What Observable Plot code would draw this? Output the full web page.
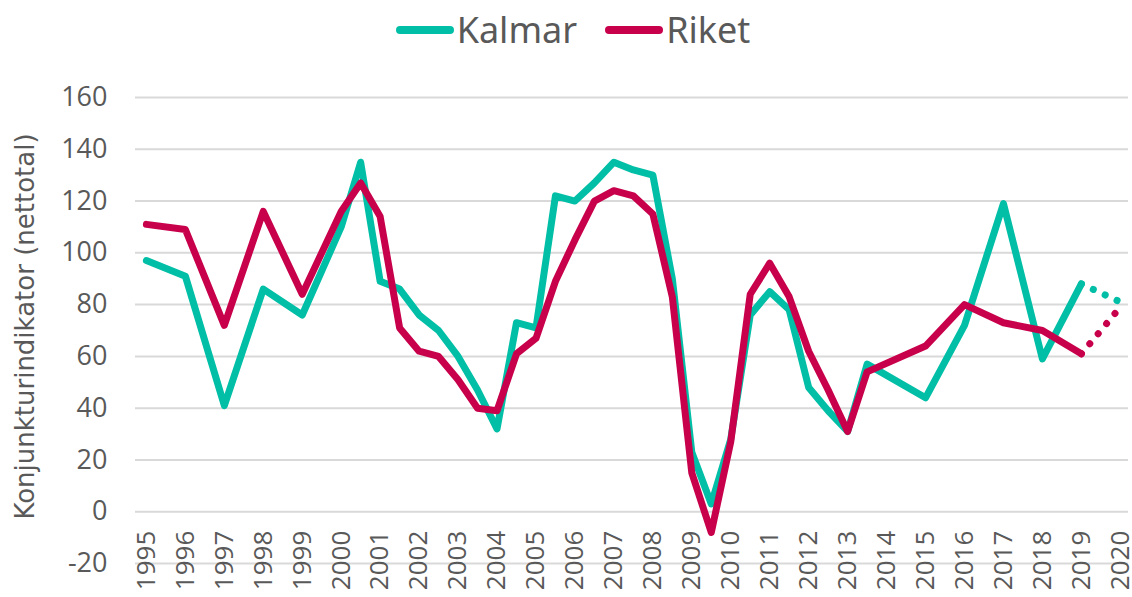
<!DOCTYPE html>
<html>
<head>
<meta charset="utf-8">
<script src="https://cdn.jsdelivr.net/npm/d3@7"></script>
<script src="https://cdn.jsdelivr.net/npm/@observablehq/plot@0.6"></script>
<style>
  html, body { margin: 0; padding: 0; background: #fff; }
  body { width: 1132px; height: 597px; overflow: hidden; font-family: "Open Sans", "Noto Sans", sans-serif; color: #595959; }
  #legend { height: 60px; display: flex; justify-content: center; align-items: center; padding-left: 14px; box-sizing: border-box; }
  .item { display: flex; align-items: center; margin: 0 14px; }
  .sw { width: 58px; height: 8px; border-radius: 4px; margin-right: 3px; }
  .lab { font-size: 36px; line-height: 40px; font-family: "Noto Sans", sans-serif; }
</style>
</head>
<body>
<div id="legend"></div>
<div id="chart"></div>
<script>
const seriesNames = ["Kalmar", "Riket"];
const seriesColors = ["#00bfa6", "#c8004b"];
const yTitle = "Konjunkturindikator (nettotal)";
const yTicks = [-20, 0, 20, 40, 60, 80, 100, 120, 140, 160];
const yearLabels = [1995, 1996, 1997, 1998, 1999, 2000, 2001, 2002, 2003, 2004, 2005, 2006, 2007, 2008, 2009, 2010, 2011, 2012, 2013, 2014, 2015, 2016, 2017, 2018, 2019, 2020];

// observation times (year, half-years where observed)
const periods = [1995, 1996, 1997, 1998, 1999, 2000, 2000.5, 2001, 2001.5, 2002, 2002.5, 2003, 2003.5, 2004, 2004.5, 2005, 2005.5, 2006, 2006.5, 2007, 2007.5, 2008, 2008.5, 2009, 2009.5, 2010, 2010.5, 2011, 2011.5, 2012, 2012.5, 2013, 2013.5, 2015, 2016, 2017, 2018, 2019];
const kalmar = [97, 91, 41, 86, 76, 110, 135, 89, 86, 76, 70, 60, 47, 32, 73, 71, 122, 120, 127, 135, 132, 130, 90, 23, 3, 28, 76, 85, 78, 48, 39, 31, 57, 44, 72, 119, 59, 88];
const riket  = [111, 109, 72, 116, 84, 116, 127, 114, 71, 62, 60, 51, 40, 39, 61, 67, 89, 105, 120, 124, 122, 115, 83, 15, -8, 27, 84, 96, 83, 62, 47, 31, 54, 64, 80, 73, 70, 61];

// forecast (dotted)
const forecastPeriods = [2019, 2020];
const kalmarForecast = [88, 81];
const riketForecast = [61, 79];

// legend
const legend = document.getElementById("legend");
seriesNames.forEach((n, i) => {
  const it = document.createElement("div");
  it.className = "item";
  it.innerHTML = `<div class="sw" style="background:${seriesColors[i]}"></div><div class="lab">${n}</div>`;
  legend.appendChild(it);
});

const obs = [];
periods.forEach((p, i) => {
  obs.push({series: "Kalmar", t: p, v: kalmar[i]});
  obs.push({series: "Riket", t: p, v: riket[i]});
});
const fc = [];
forecastPeriods.forEach((p, i) => {
  fc.push({series: "Kalmar", t: p, v: kalmarForecast[i]});
  fc.push({series: "Riket", t: p, v: riketForecast[i]});
});

const chart = Plot.plot({
  width: 1132,
  height: 537,
  marginTop: 37,
  marginBottom: 34,
  marginLeft: 135,
  marginRight: 4,
  style: {fontFamily: "'Open Sans', 'Noto Sans', sans-serif", color: "#595959", background: "#fff", overflow: "visible"},
  x: {domain: [1994.72, 2020.21], axis: null},
  y: {domain: [-20, 160], axis: null},
  color: {domain: seriesNames, range: seriesColors},
  marks: [
    Plot.ruleY(yTicks, {stroke: "#d9d9d9", strokeWidth: 2}),
    Plot.axisY(yTicks, {tickSize: 0, tickPadding: 28, fontSize: 27, fill: "#595959", label: null, tickFormat: d => String(d)}),
    Plot.text([yTitle], {frameAnchor: "left", dx: -110, dy: -4, rotate: -90, textAnchor: "middle", fontSize: 26, fontFamily: "'DejaVu Sans', 'Open Sans', sans-serif", fill: "#595959"}),
    Plot.text(yearLabels, {x: d => d, y: 0, text: d => String(d), rotate: -90, textAnchor: "end", dy: 19, fontSize: 26, fill: "#595959"}),
    Plot.line(fc, {x: "t", y: "v", z: "series", stroke: "series", strokeWidth: 7, strokeLinecap: "round", strokeDasharray: "0.1 13"}),
    Plot.line(obs, {x: "t", y: "v", z: "series", stroke: "series", strokeWidth: 7, strokeLinecap: "round", strokeLinejoin: "round"})
  ]
});
document.getElementById("chart").appendChild(chart);
</script>
</body>
</html>
